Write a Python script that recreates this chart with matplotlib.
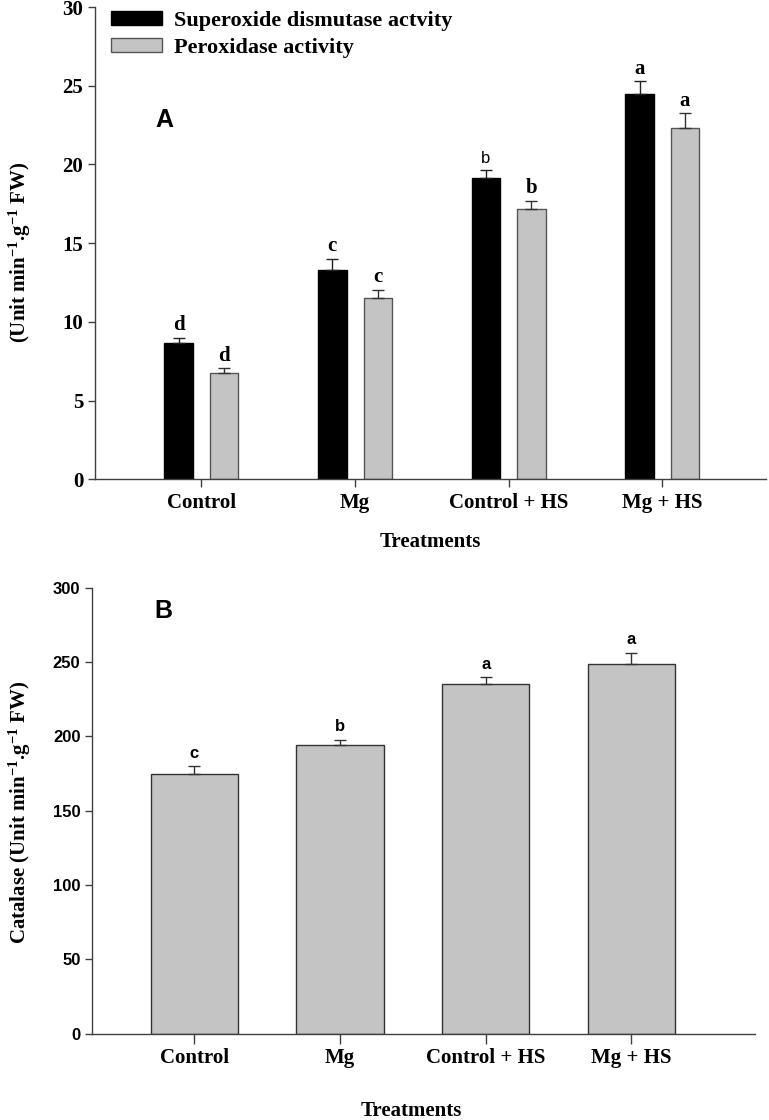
import matplotlib
matplotlib.use("Agg")
import matplotlib.pyplot as plt
import matplotlib.patches as mpatches
import numpy as np

categories = ["Control", "Mg", "Control + HS", "Mg + HS"]

sod = [8.65, 13.3, 19.15, 24.5]
sod_se = [0.35, 0.7, 0.5, 0.78]
sod_letters = ["d", "c", "b", "a"]

pod = [6.75, 11.5, 17.2, 22.3]
pod_se = [0.3, 0.55, 0.5, 0.95]
pod_letters = ["d", "c", "b", "a"]

cat = [175.0, 194.5, 235.0, 249.0]
cat_se = [4.8, 3.2, 4.9, 7.3]
cat_letters = ["c", "b", "a", "a"]

SERIF = "Liberation Serif"
SANS = "Liberation Sans"
GRAY = "#c4c4c4"
AXC = "#404040"

plt.rcParams["font.family"] = SERIF
plt.rcParams["font.weight"] = "bold"
plt.rcParams["mathtext.fontset"] = "custom"
plt.rcParams["mathtext.rm"] = "Liberation Serif:bold"
plt.rcParams["mathtext.bf"] = "Liberation Serif:bold"
plt.rcParams["mathtext.default"] = "bf"

fig = plt.figure(figsize=(7.69, 11.2), dpi=100)
ax1 = fig.add_axes([0.1235, 0.5720, 0.8726, 0.4217])
ax2 = fig.add_axes([0.1200, 0.0772, 0.8618, 0.3980])

x = np.arange(1, len(categories) + 1)


def style_axis(ax):
    for s in ["top", "right"]:
        ax.spines[s].set_visible(False)
    for s in ["left", "bottom"]:
        ax.spines[s].set_color(AXC)
        ax.spines[s].set_linewidth(1.0)
    ax.tick_params(direction="out", length=5, width=1, color=AXC)


# ---------- panel A ----------
w = 0.185
off = 0.148
ax1.bar(x - off, sod, w, color="black", edgecolor="black", linewidth=1, zorder=2)
ax1.bar(x + off, pod, w, color=GRAY, edgecolor="#555555", linewidth=1, zorder=2)
ax1.errorbar(x - off, sod, yerr=[np.zeros(4), sod_se], fmt="none",
             ecolor="#222222", elinewidth=1, capsize=4.5, capthick=1, zorder=3)
ax1.errorbar(x + off, pod, yerr=[np.zeros(4), pod_se], fmt="none",
             ecolor="#333333", elinewidth=1, capsize=4.5, capthick=1, zorder=3)

for i in range(len(categories)):
    if i == 2:
        ax1.annotate(sod_letters[i], (x[i] - off, sod[i] + sod_se[i]), xytext=(0, 3),
                     textcoords="offset points", ha="center", va="bottom",
                     family=SANS, weight="normal", fontsize=12)
    else:
        ax1.annotate(sod_letters[i], (x[i] - off, sod[i] + sod_se[i]), xytext=(0, 2),
                     textcoords="offset points", ha="center", va="bottom",
                     family=SERIF, weight="bold", fontsize=15)
    ax1.annotate(pod_letters[i], (x[i] + off, pod[i] + pod_se[i]), xytext=(0, 2),
                 textcoords="offset points", ha="center", va="bottom",
                 family=SERIF, weight="bold", fontsize=15)

ax1.set_xlim(0.307, 4.675)
ax1.set_ylim(0, 30)
ax1.set_yticks([0, 5, 10, 15, 20, 25, 30])
ax1.set_xticks(x)
ax1.set_xticklabels(categories)
style_axis(ax1)
ax1.tick_params(axis="x", length=6)
for lab in ax1.get_yticklabels() + ax1.get_xticklabels():
    lab.set_family(SERIF)
    lab.set_weight("bold")
    lab.set_fontsize(15)

fig.text(164 / 769, 1 - 120 / 1120, "A", ha="center", va="center",
         family=SANS, weight="bold", fontsize=18)

handles = [mpatches.Patch(facecolor="black", edgecolor="black"),
           mpatches.Patch(facecolor=GRAY, edgecolor="#555555")]
fig.legend(handles, ["Superoxide dismutase actvity", "Peroxidase activity"],
           loc="upper left", bbox_to_anchor=(111 / 769, 1 - 11 / 1120),
           frameon=False, prop={"family": SERIF, "weight": "bold", "size": 16},
           handlelength=2.3, handleheight=0.6, handletextpad=0.55,
           labelspacing=0.3, borderpad=0, borderaxespad=0)

fig.text(20 / 769, 1 - 252 / 1120, r"(Unit min$^{-1}$.g$^{-1}$ FW)", rotation=90,
         ha="center", va="center", fontsize=15, family=SERIF, weight="bold")
fig.text(430 / 769, 1 - 542 / 1120, "Treatments", ha="center", va="center",
         fontsize=15, family=SERIF, weight="bold")

# ---------- panel B ----------
ax2.bar(x, cat, 0.60, color=GRAY, edgecolor="#333333", linewidth=1, zorder=2)
ax2.errorbar(x, cat, yerr=[np.zeros(4), cat_se], fmt="none", ecolor="#333333",
             elinewidth=1, capsize=4.5, capthick=1, zorder=3)
for i in range(len(categories)):
    ax2.annotate(cat_letters[i], (x[i], cat[i] + cat_se[i]), xytext=(0, 4),
                 textcoords="offset points", ha="center", va="bottom",
                 family=SANS, weight="bold", fontsize=12)

ax2.set_xlim(0.298, 4.85)
ax2.set_ylim(0, 300)
ax2.set_yticks([0, 50, 100, 150, 200, 250, 300])
ax2.set_xticks(x)
ax2.set_xticklabels(categories)
style_axis(ax2)
ax2.tick_params(axis="x", length=7)
for lab in ax2.get_yticklabels():
    lab.set_family(SANS)
    lab.set_weight("bold")
    lab.set_fontsize(12)
for lab in ax2.get_xticklabels():
    lab.set_family(SERIF)
    lab.set_weight("bold")
    lab.set_fontsize(15)

fig.text(163 / 769, 1 - 611 / 1120, "B", ha="center", va="center",
         family=SANS, weight="bold", fontsize=18)
fig.text(20 / 769, 1 - 812 / 1120, r"Catalase (Unit min$^{-1}$.g$^{-1}$ FW)",
         rotation=90, ha="center", va="center", fontsize=15, family=SERIF,
         weight="bold")
fig.text(411 / 769, 1 - 1111 / 1120, "Treatments", ha="center", va="center",
         fontsize=15, family=SERIF, weight="bold")

fig.savefig("out.png", dpi=100)
